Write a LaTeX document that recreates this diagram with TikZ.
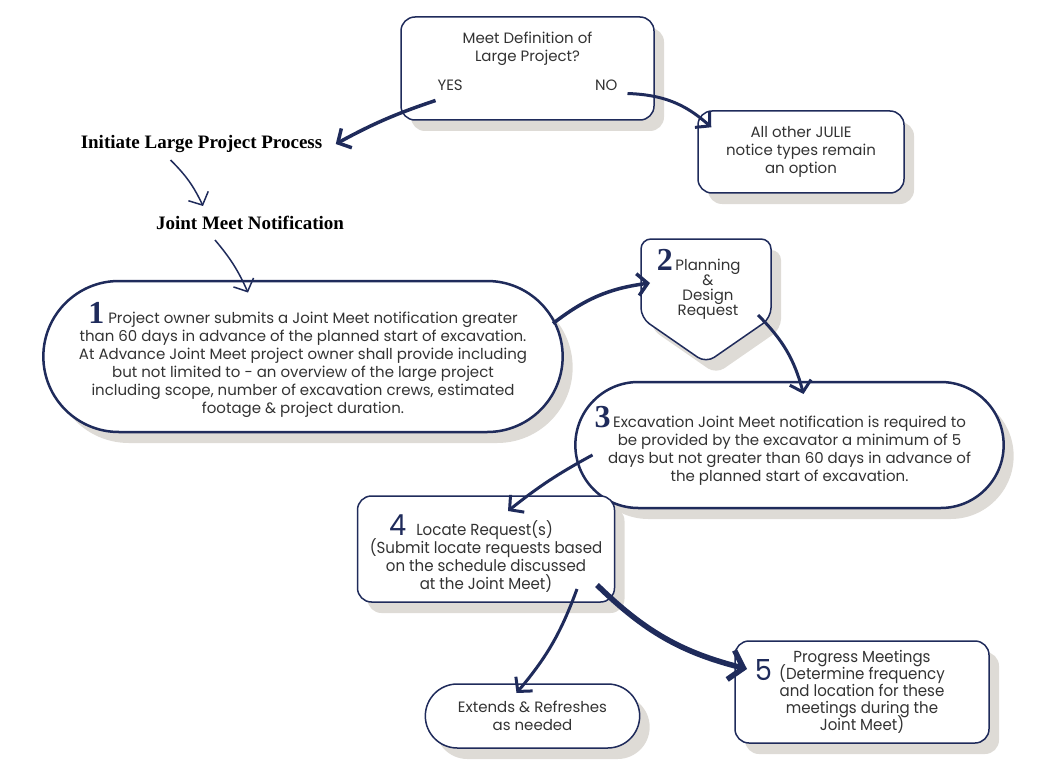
\documentclass[tikz,border=0pt]{standalone}
\usepackage{fontspec}
\setmainfont{Poppins}
\newfontfamily\headfont{Liberation Serif}
\newfontfamily\condfont[FakeStretch=0.94]{Poppins}
\usetikzlibrary{arrows.meta,shapes.misc,shadows}
\definecolor{navy}{HTML}{1F2B5B}
\definecolor{ink}{HTML}{333333}
\definecolor{shade}{HTML}{DEDBD6}
\newcommand{\bignum}[1]{\smash{\headfont\bfseries\fontsize{32}{32}\selectfont\color{navy}#1}}
\newcommand{\sansnum}[1]{\smash{\condfont\fontsize{29}{29}\selectfont\color{navy}#1}}
\setlength{\lineskiplimit}{-20pt}

\begin{document}
\begin{tikzpicture}[x=1pt, y=-1pt, every node/.style={text=ink, align=center, font=\fontsize{15}{18}\selectfont}]
\tikzset{shadowed/.style={drop shadow={shadow xshift=10pt, shadow yshift=-11pt, fill=shade, opacity=1}}}
\tikzset{box/.style={draw=navy, line width=1.5pt, fill=white, rounded corners=14pt, shadowed}}
\tikzset{pill/.style={rounded rectangle, draw=navy, line width=2.5pt, fill=white, shadowed}}
\tikzset{arr/.style={navy, line width=#1, -{Straight Barb[length=10pt, width=22pt]}}}
\tikzset{head/.style={text=black, font=\headfont\bfseries\fontsize{19}{22}\selectfont}}
\tikzset{narrow/.style={font=\condfont\fontsize{16}{#1}\selectfont}}
\useasboundingbox (0,0) rectangle (1050,773);
\node[box, minimum width=253, minimum height=103] (meet) at (527.5,68.5) {Meet Definition of\\Large Project?\\[11pt]\makebox[180pt]{YES\hfill NO}\\[-4pt]\mbox{}};
\node[box, minimum width=206, minimum height=82] (julie) at (801,152) {All other JULIE\\notice types remain\\an option};
\node[head] (init) at (201.5,144) {Initiate Large Project Process};
\node[head] (jm) at (250,223) {Joint Meet Notification};
\node[pill, minimum width=526, minimum height=151] (step1) at (303,356.5) {\rule{0pt}{28pt}\bignum{1} Project owner submits a Joint Meet notification greater\\than 60 days in advance of the planned start of excavation.\\At Advance Joint Meet project owner shall provide including\\but not limited to - an overview of the large project\\including scope, number of excavation crews, estimated\\footage \& project duration.};
% planning box is a pentagon
\draw[box, rounded corners=10pt] (641,239) -- (771,239) -- (771,318) -- (706,363) -- (641,318) -- cycle;
\node[font=\fontsize{15}{15}\selectfont] (step2) at (708,289) {\llap{\bignum{2}\,}Planning\\\&\\Design\\Request};
\node[pill, minimum width=435, minimum height=126] (step3) at (789.5,445) {\rule{0pt}{22pt}\llap{\bignum{3}\,}Excavation Joint Meet notification is required to\\be provided by the excavator a minimum of 5\\days but not greater than 60 days in advance of\\the planned start of excavation.};
\node[box, narrow=18, minimum width=257, minimum height=106] (step4) at (486,549) {\rule{0pt}{29pt}\sansnum{4}\hspace{10pt}Locate Request(s)\hspace*{30pt}\\(Submit locate requests based\\on the schedule discussed\\at the Joint Meet)};
\node[pill, line width=1.5pt, minimum width=221, minimum height=64] (ext) at (532.5,716) {Extends \& Refreshes\\as needed};
\node[box, narrow=17, minimum width=254, minimum height=102] (step5) at (862,692) {Progress Meetings\\(Determine frequency\\and location for these\\meetings during the\\Joint Meet)};
\node[font=\condfont\fontsize{29}{29}\selectfont, text=navy] (num5) at (763.5,670) {5};
% arrows
\draw[arr=3.5pt] ([shift={(-92,32)}]meet.center) to[bend right=5] ([xshift=10pt]init.east);
\draw[arr=3pt] ([shift={(100,25)}]meet.center) to[bend left=20] ([shift={(14,17)}]julie.north west);
\draw[arr=1.5pt] ([shift={(-31,16)}]init.center) to[bend left=10] ([shift={(-47,-17)}]jm.center);
\draw[arr=1.5pt] ([shift={(-35,17)}]jm.center) to[bend left=8] ([shift={(-55,-64)}]step1.center);
\draw[arr=3.5pt] ([shift={(250,-33)}]step1.center) to[bend left=15] ([shift={(-58,-6)}]step2.center);
\draw[arr=3pt] ([shift={(50,26)}]step2.center) to[bend left=15] ([shift={(14,-51)}]step3.center);
\draw[arr=3pt] ([shift={(-197,10)}]step3.center) to[bend right=5] ([shift={(22,-38)}]step4.center);
\draw[arr=3pt] ([shift={(91,40)}]step4.center) to[bend left=10] ([shift={(-16,-23)}]ext.center);
\draw[arr=5.5pt, -{Straight Barb[length=13pt, width=30pt]}] ([shift={(111,36)}]step4.center) to[bend right=15] ([shift={(-115,-23)}]step5.center);
\end{tikzpicture}
\end{document}
